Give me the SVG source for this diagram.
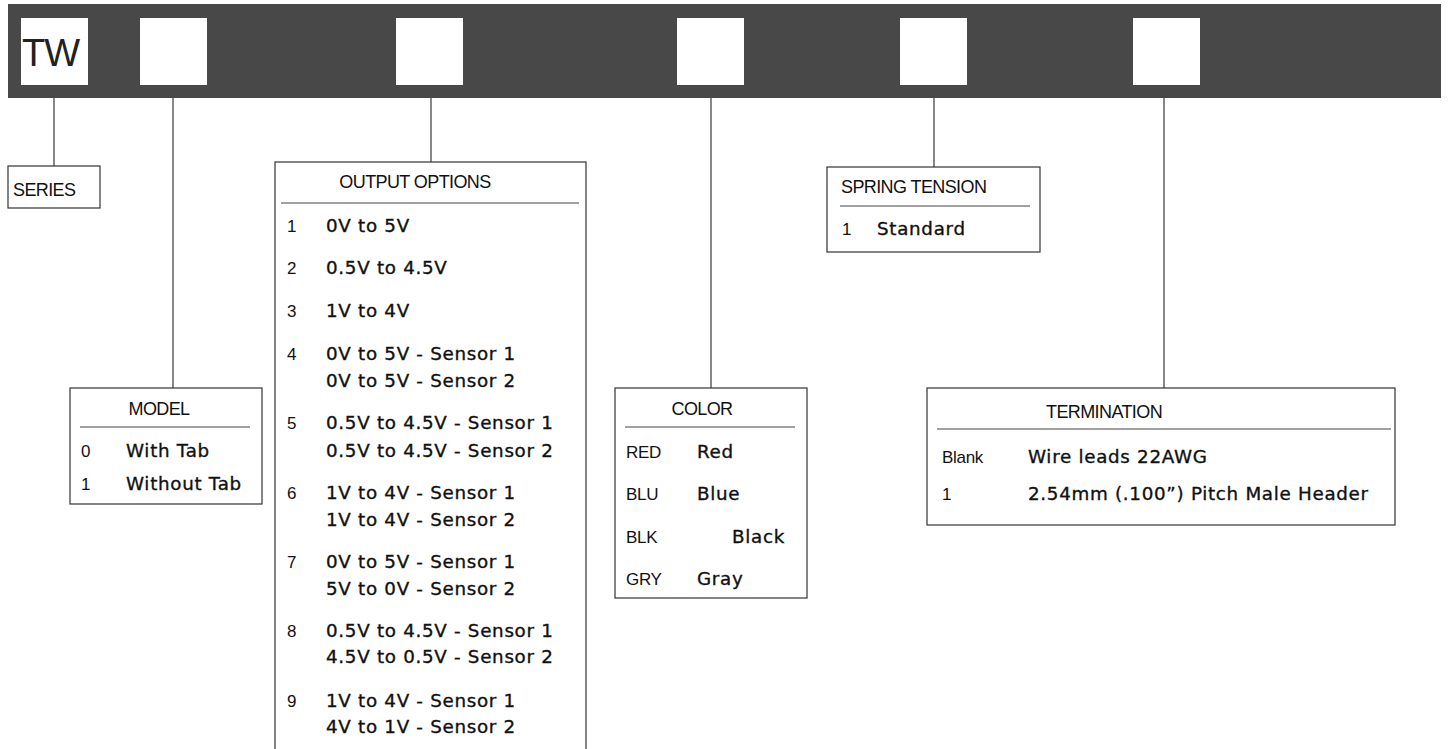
<svg xmlns="http://www.w3.org/2000/svg" width="1448" height="749" viewBox="0 0 1448 749">
<style>
.bar{fill:#484848}
.slot{fill:#ffffff}
.box{fill:#ffffff;stroke:#333333;stroke-width:1.2}
.rule{stroke:#444444;stroke-width:1.2}
.conn{stroke:#555555;stroke-width:1.4;fill:none}
.hd{font-family:"Liberation Sans","Open Sans",sans-serif;font-size:18px;letter-spacing:-0.6px;fill:#111111}
.key{font-family:"Liberation Sans","Open Sans",sans-serif;font-size:17px;letter-spacing:-0.3px;fill:#111111}
.val{font-family:"DejaVu Sans","Noto Sans",sans-serif;font-size:18.3px;letter-spacing:0.7px;fill:#111111;stroke:#111111;stroke-width:0.35}
.tw{font-family:"Liberation Sans","Open Sans",sans-serif;font-size:38px;letter-spacing:-1px;fill:#222222}
</style>
<rect width="1448" height="749" fill="#ffffff"/>
<g id="header-bar">
<rect class="bar" x="8" y="4" width="1433" height="94"/>
<rect class="slot" x="21" y="18" width="67" height="67"/>
<text class="tw" x="22" y="66">TW</text>
<rect class="slot" x="140" y="18" width="67" height="67"/>
<rect class="slot" x="396" y="18" width="67" height="67"/>
<rect class="slot" x="677" y="18" width="67" height="67"/>
<rect class="slot" x="900" y="18" width="67" height="67"/>
<rect class="slot" x="1133" y="18" width="67" height="67"/>
</g>
<g id="connectors">
<line class="conn" x1="54" y1="98" x2="54" y2="166"/>
<line class="conn" x1="173" y1="98" x2="173" y2="388"/>
<line class="conn" x1="431" y1="98" x2="431" y2="162"/>
<line class="conn" x1="711" y1="98" x2="711" y2="388"/>
<line class="conn" x1="934" y1="98" x2="934" y2="167"/>
<line class="conn" x1="1164" y1="98" x2="1164" y2="388"/>
</g>
<g id="series">
<rect class="box" x="8" y="166" width="92" height="42"/>
<text class="hd" x="13" y="196">SERIES</text>
</g>
<g id="model">
<rect class="box" x="70" y="388" width="192" height="116"/>
<text class="hd" x="159" y="415" text-anchor="middle">MODEL</text>
<line class="rule" x1="80" y1="427" x2="250" y2="427"/>
<text class="key" x="81" y="457">0</text>
<text class="val" x="126" y="457">With Tab</text>
<text class="key" x="81" y="490">1</text>
<text class="val" x="126" y="490" letter-spacing="-0.2">Without Tab</text>
</g>
<g id="output-options">
<rect class="box" x="275" y="162" width="311" height="600"/>
<text class="hd" x="415" y="188" text-anchor="middle">OUTPUT OPTIONS</text>
<line class="rule" x1="281" y1="203" x2="579" y2="203"/>
<text class="key" x="287" y="232">1</text>
<text class="val" x="326" y="232">0V to 5V</text>
<text class="key" x="287" y="274">2</text>
<text class="val" x="326" y="274">0.5V to 4.5V</text>
<text class="key" x="287" y="317">3</text>
<text class="val" x="326" y="317">1V to 4V</text>
<text class="key" x="287" y="360">4</text>
<text class="val" x="326" y="360">0V to 5V - Sensor 1</text>
<text class="val" x="326" y="387">0V to 5V - Sensor 2</text>
<text class="key" x="287" y="429">5</text>
<text class="val" x="326" y="429">0.5V to 4.5V - Sensor 1</text>
<text class="val" x="326" y="457">0.5V to 4.5V - Sensor 2</text>
<text class="key" x="287" y="499">6</text>
<text class="val" x="326" y="499">1V to 4V - Sensor 1</text>
<text class="val" x="326" y="526">1V to 4V - Sensor 2</text>
<text class="key" x="287" y="568">7</text>
<text class="val" x="326" y="568">0V to 5V - Sensor 1</text>
<text class="val" x="326" y="595">5V to 0V - Sensor 2</text>
<text class="key" x="287" y="637">8</text>
<text class="val" x="326" y="637">0.5V to 4.5V - Sensor 1</text>
<text class="val" x="326" y="663">4.5V to 0.5V - Sensor 2</text>
<text class="key" x="287" y="707">9</text>
<text class="val" x="326" y="707">1V to 4V - Sensor 1</text>
<text class="val" x="326" y="733">4V to 1V - Sensor 2</text>
</g>
<g id="color">
<rect class="box" x="615" y="388" width="192" height="210"/>
<text class="hd" x="702" y="415" text-anchor="middle">COLOR</text>
<line class="rule" x1="625" y1="427" x2="795" y2="427"/>
<text class="key" x="626" y="458">RED</text>
<text class="val" x="697" y="458">Red</text>
<text class="key" x="626" y="500">BLU</text>
<text class="val" x="697" y="500">Blue</text>
<text class="key" x="626" y="543">BLK</text>
<text class="val" x="732" y="543">Black</text>
<text class="key" x="626" y="585">GRY</text>
<text class="val" x="697" y="585">Gray</text>
</g>
<g id="spring-tension">
<rect class="box" x="827" y="167" width="213" height="85"/>
<text class="hd" x="841" y="193">SPRING TENSION</text>
<line class="rule" x1="840" y1="206" x2="1030" y2="206"/>
<text class="key" x="842" y="235">1</text>
<text class="val" x="877" y="235">Standard</text>
</g>
<g id="termination">
<rect class="box" x="927" y="388" width="468" height="137"/>
<text class="hd" x="1046" y="418">TERMINATION</text>
<line class="rule" x1="937" y1="429" x2="1391" y2="429"/>
<text class="key" x="942" y="463">Blank</text>
<text class="val" x="1028" y="463">Wire leads 22AWG</text>
<text class="key" x="942" y="500">1</text>
<text class="val" x="1028" y="500">2.54mm (.100”) Pitch Male Header</text>
</g>
</svg>
